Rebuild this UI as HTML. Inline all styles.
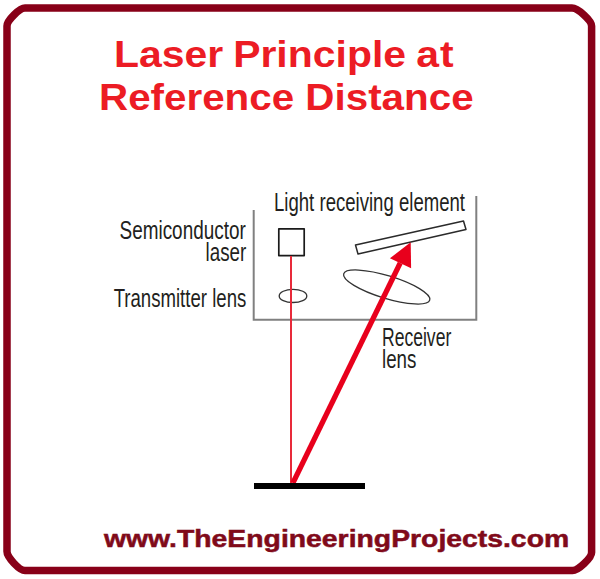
<!DOCTYPE html>
<html><head><meta charset="utf-8">
<style>
html,body{margin:0;padding:0;background:#fff;width:600px;height:579px;overflow:hidden;}
body{position:relative;font-family:"Liberation Sans",sans-serif;}
svg{position:absolute;left:0;top:0;}
.t{position:absolute;white-space:nowrap;line-height:1;}
.title{color:#ec1c24;font-weight:bold;font-size:36px;transform-origin:left top;transform:scaleX(1.13);}
.lab{color:#231f20;font-size:25px;transform-origin:left top;transform:scaleX(0.75);}
.labr{color:#231f20;font-size:25px;transform-origin:right top;text-align:right;transform:scaleX(0.75);}
.foot{color:#800a1a;font-weight:bold;font-size:24px;transform-origin:left top;transform:scaleX(1.181);-webkit-text-stroke:0.5px #800a1a;}
</style></head><body>
<svg width="600" height="579" viewBox="0 0 600 579">
  <!-- outer rounded border -->
  <path d="M25,8.1 H572 C577.9,8.1 591.6,20.6 591.6,26 V552.5 C591.6,557.8 578.3,570.6 572.5,570.6 H25 C19.5,570.6 7.0,557.2 7.0,551.6 V26 C7.0,20.6 19.5,8.1 25,8.1 Z" fill="none" stroke="#880018" stroke-width="7.5"/>
  <!-- box -->
  <polyline points="253.7,210 253.7,319.7 476.3,319.7 476.3,196" fill="none" stroke="#808080" stroke-width="2"/>
  <!-- laser square -->
  <rect x="278.8" y="228.8" width="25.4" height="26.8" fill="none" stroke="#1a1a1a" stroke-width="1.7" stroke-linejoin="round"/>
  <!-- transmitter lens -->
  <ellipse cx="293" cy="295.9" rx="13.8" ry="6.6" fill="none" stroke="#333" stroke-width="1.3"/>
  <!-- receiving element -->
  <polygon points="355.5,245 463.5,221 466,229.5 358,254" fill="none" stroke="#2a2a2a" stroke-width="1.5" stroke-linejoin="round"/>
  <!-- receiver lens -->
  <ellipse cx="386.7" cy="287" rx="45" ry="11.3" transform="rotate(17 386.7 287)" fill="none" stroke="#333" stroke-width="1.3"/>
  <!-- vertical red laser line -->
  <line x1="291" y1="256" x2="291" y2="483" stroke="#e82a3a" stroke-width="2"/>
  <!-- reflected arrow -->
  <line x1="292.9" y1="483" x2="400.2" y2="263" stroke="#e8001c" stroke-width="5.2"/>
  <polygon points="410.7,242.3 389.9,258.3 411.1,268.2" fill="#e8001c"/>
  <!-- surface -->
  <rect x="254" y="483" width="111" height="6" fill="#000"/>
</svg>
<div class="t title" style="left:114px;top:37px;transform:scaleX(1.137);">Laser <span style="margin-left:-1.3px">Principle</span> <span style="margin-left:-1.1px;letter-spacing:1px">at</span></div>
<div class="t title" style="left:99px;top:79.5px;transform:scaleX(1.121);">Reference Distance</div>
<div class="t labr" style="right:354.5px;top:218px;transform:scaleX(0.757);">Semiconductor</div>
<div class="t labr" style="right:354px;top:240.4px;">laser</div>
<div class="t labr" style="right:354px;top:285.8px;transform:scaleX(0.744);">Transmitter lens</div>
<div class="t lab" style="left:274px;top:190.3px;transform:scaleX(0.743);">Light receiving element</div>
<div class="t lab" style="left:382px;top:324.5px;transform:scaleX(0.702);">Receiver</div>
<div class="t lab" style="left:382px;top:346.5px;">lens</div>
<div class="t foot" style="left:104px;top:526.7px;">www.TheEngineeringProjects.com</div>
</body></html>
